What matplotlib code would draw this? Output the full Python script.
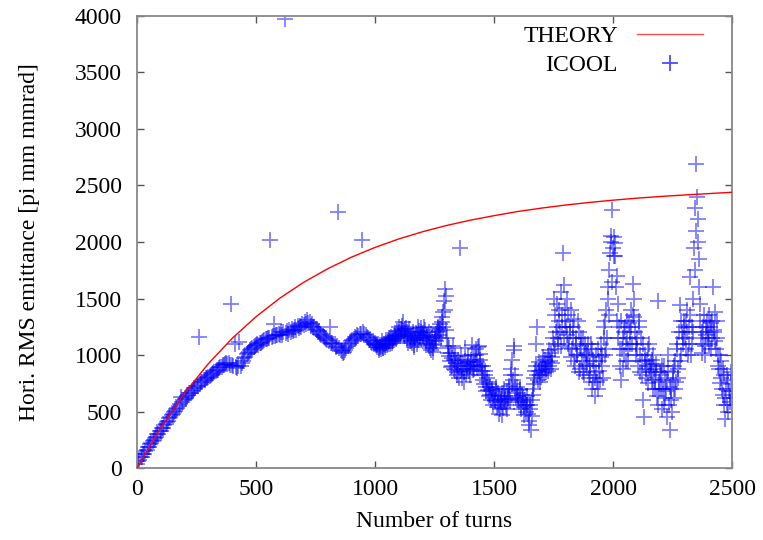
import matplotlib
matplotlib.use("Agg")
import matplotlib.pyplot as plt
import numpy as np

# ---- data ----
theory_turns = [0, 100, 200, 300, 400, 500, 600, 700, 800, 900, 1000, 1100, 1200,
                1300, 1400, 1500, 1600, 1700, 1800, 1900, 2000, 2100, 2200, 2300,
                2400, 2500]
theory_emit = [0, 357, 663, 924, 1148, 1339, 1503, 1643, 1762, 1865, 1952, 2027,
               2091, 2146, 2193, 2233, 2270, 2300, 2327, 2350, 2370, 2388, 2403,
               2416, 2428, 2440]

# ICOOL samples every 5 turns, starting at turn 0
icool_step = 5
icool_emit = [
    35, 62, 68, 95, 98, 125, 128, 152, 158, 185, 188, 212, 218, 242, 246, 270, 274, 298, 300, 325,
    330, 350, 358, 380, 388, 410, 418, 440, 448, 468, 476, 498, 505, 525, 532, 552, 565, 625, 588, 605,
    615, 620, 640, 642, 662, 668, 682, 690, 705, 712, 722, 728, 1160, 742, 760, 762, 778, 782, 795, 800,
    805, 818, 820, 835, 840, 848, 858, 866, 870, 885, 892, 898, 908, 912, 920, 928, 918, 930, 915, 1450,
    912, 905, 1100, 895, 888, 900, 1112, 905, 925, 945, 970, 985, 1005, 1020, 1030, 1045, 1050, 1065, 1072, 1080,
    1085, 1095, 1092, 1105, 1110, 1115, 1125, 1130, 1138, 1145, 1150, 1148, 2015, 1160, 1165, 1278, 1172, 1180, 1175, 1185,
    1180, 1205, 1175, 1200, 3970, 1195, 1215, 1190, 1220, 1200, 1230, 1210, 1225, 1245, 1220, 1255, 1240, 1260, 1250, 1275,
    1265, 1290, 1270, 1310, 1285, 1295, 1260, 1275, 1245, 1250, 1230, 1220, 1205, 1215, 1190, 1180, 1170, 1160, 1150, 1140,
    1130, 1120, 1250, 1105, 1110, 1095, 1100, 1075, 1080, 2265, 1060, 1045, 1035, 1020, 1030, 1045, 1060, 1080, 1095, 1110,
    1120, 1135, 1145, 1160, 1150, 1175, 1170, 1190, 1185, 2020, 1200, 1185, 1175, 1160, 1150, 1135, 1130, 1115, 1120, 1100,
    1105, 1090, 1085, 1060, 1075, 1050, 1080, 1065, 1090, 1110, 1085, 1130, 1120, 1140, 1110, 1150, 1135, 1165, 1150, 1180,
    1200, 1170, 1230, 1260, 1215, 1185, 1240, 1150, 1190, 1120, 1165, 1105, 1140, 1090, 1150, 1180, 1130, 1210, 1170, 1240,
    1195, 1150, 1220, 1110, 1160, 1080, 1120, 1040, 1090, 1060, 1130, 1170, 1200, 1250, 1180, 1230, 1290, 1380, 1480, 1580,
    1220, 1080, 990, 950, 1020, 900, 960, 870, 930, 820, 900, 1950, 860, 800, 920, 850, 1060, 880, 940, 860,
    900, 960, 870, 1000, 920, 1050, 940, 1080, 960, 900, 860, 780, 820, 720, 760, 690, 740, 650, 700, 620,
    650, 590, 700, 560, 640, 520, 610, 470, 580, 640, 560, 680, 620, 730, 820, 960, 780, 1040, 700, 660,
    640, 580, 690, 560, 620, 540, 600, 500, 560, 420, 520, 340, 600, 700, 800, 900, 1250, 780, 860, 820,
    870, 920, 840, 960, 880, 990, 900, 950, 1020, 930, 1100, 1350, 1200, 1450, 1150, 1300, 1080, 1250, 1900, 1620,
    1420, 1180, 1350, 1060, 1250, 980, 1150, 1320, 900, 1100, 1000, 1200, 880, 1080, 950, 1150, 820, 1020, 900, 1100,
    980, 820, 1050, 760, 900, 640, 850, 700, 950, 780, 1100, 900, 1250, 1000, 1400, 1150, 1600, 1750, 2000, 2280,
    1950, 2040, 1880, 1700, 1450, 1250, 1050, 780, 1150, 1000, 1250, 1100, 1300, 950, 1200, 1400, 1100, 1630, 1340, 1000,
    1150, 900, 1250, 1000, 820, 1100, 450, 950, 880, 1050, 900, 870, 920, 780, 1000, 700, 850, 640, 1480, 760,
    820, 520, 700, 900, 620, 780, 1000, 560, 340, 700, 850, 620, 950, 760, 1100, 880, 1440, 1000, 1200, 1150,
    1300, 1050, 1400, 1000, 1250, 1690, 1100, 1500, 1950, 2300, 2690, 2200, 1850, 1300, 1150, 1020, 1250, 1080, 1180, 1300,
    1200, 1100, 1280, 1150, 1600, 1220, 1120, 1300, 1000, 880, 750, 950, 650, 820, 430, 700, 560, 780, 620, 740,
    680,
]

# extra ICOOL samples in between (turns 1002.5, 1007.5, ... 2497.5)
icool_mid_start = 1002.5
icool_mid_emit = [
    1095, 1070, 1100, 1045, 1090, 1120, 1060, 1100, 1075, 1130, 1100, 1150, 1095, 1160, 1125, 1120, 1180, 1140, 1210, 1165,
    1250, 1190, 1220, 1290, 1170, 1230, 1200, 1110, 1230, 1160, 1120, 1200, 1070, 1130, 1195, 1100, 1250, 1150, 1200, 1180,
    1170, 1250, 1130, 1180, 1100, 1200, 1060, 1150, 1030, 1100, 1160, 1120, 1240, 1210, 1270, 1150, 1340, 1250, 1400, 1520,
    1150, 1020, 1060, 890, 970, 1080, 880, 990, 850, 960, 800, 930, 1000, 880, 760, 950, 830, 900, 990, 820,
    940, 1090, 910, 880, 1000, 890, 1070, 900, 1010, 820, 900, 740, 860, 680, 800, 640, 720, 600, 680, 560,
    600, 720, 540, 660, 480, 580, 640, 530, 700, 600, 520, 610, 700, 600, 880, 740, 1080, 820, 620, 720,
    600, 700, 520, 650, 580, 470, 560, 640, 480, 380, 560, 460, 650, 740, 860, 1100, 820, 940, 760, 900,
    820, 980, 900, 850, 940, 860, 1040, 880, 980, 1150, 1500, 1050, 1250, 1100, 1400, 1200, 1560, 1350, 1150, 1300,
    1250, 1500, 1100, 1200, 1400, 1050, 1250, 950, 1150, 1000, 1300, 850, 1050, 1150, 850, 1000, 1100, 920, 1000, 800,
    900, 1100, 700, 950, 800, 1000, 760, 1050, 860, 980, 1000, 800, 1150, 1300, 1050, 1500, 1350, 1900, 2050, 1650,
    1880, 1990, 1600, 1300, 1150, 900, 1300, 1050, 880, 1200, 950, 1150, 1050, 1280, 1100, 1250, 1350, 1500, 1200, 1100,
    1050, 1300, 850, 1150, 950, 600, 1000, 800, 960, 750, 1100, 850, 960, 700, 880, 780, 920, 560, 700, 850,
    700, 900, 560, 800, 680, 450, 860, 720, 600, 500, 780, 900, 700, 1050, 800, 1200, 950, 1300, 1100, 1250,
    1150, 1300, 1200, 1100, 1350, 1000, 1250, 1200, 1750, 2100, 2400, 2000, 1600, 1450, 1200, 1100, 1350, 1000, 1250, 1150,
    1350, 1250, 1050, 1300, 1200, 1380, 1050, 1150, 900, 1000, 800, 700, 880, 560, 620, 820, 500, 680, 580, 850,
]

icool_turns = [i * icool_step for i in range(len(icool_emit))]
icool_mid_turns = [icool_mid_start + i * icool_step for i in range(len(icool_mid_emit))]

xticks = [0, 500, 1000, 1500, 2000, 2500]
yticks = [0, 500, 1000, 1500, 2000, 2500, 3000, 3500, 4000]

# ---- figure ----
plt.rcParams['font.family'] = ['Liberation Serif', 'DejaVu Serif']
FS = 17
fig = plt.figure(figsize=(7.63, 5.40), dpi=100)
ax = fig.add_axes([0.1796, 0.1333, 0.7798, 0.8371])

ax.plot(theory_turns, theory_emit, color='#ff0000', lw=1.0, label='THEORY', zorder=3)
mstyle = dict(linestyle='none', marker='+', markersize=11, markeredgewidth=1.3,
              color='#0000ff', alpha=0.5)
ax.plot(icool_turns, icool_emit, label='ICOOL', zorder=2, **mstyle)
ax.plot(icool_mid_turns, icool_mid_emit, zorder=2, **mstyle)

ax.set_xlim(0, 2500)
ax.set_ylim(0, 4000)
ax.set_xticks(xticks)
ax.set_yticks(yticks)
ax.tick_params(direction='in', top=True, right=True, length=5, width=1.0,
               color='#555555', labelsize=FS)
ax.tick_params(axis='x', pad=8)
ax.tick_params(axis='y', pad=11)
for s in ax.spines.values():
    s.set_color('#888888')
    s.set_linewidth(1.3)

ax.set_xlabel('Number of turns', fontsize=FS, labelpad=8)
ax.set_ylabel('Hori. RMS emittance [pi mm mmrad]', fontsize=FS, labelpad=25)

leg = ax.legend(loc='upper right', frameon=False, markerfirst=False, numpoints=1,
                fontsize=FS, handlelength=2.8, handletextpad=0.8, labelspacing=0.3,
                borderaxespad=0.2, bbox_to_anchor=(0.975, 1.01))
for h in leg.legend_handles:
    h.set_alpha(0.7)

fig.savefig('out.png', dpi=100)
